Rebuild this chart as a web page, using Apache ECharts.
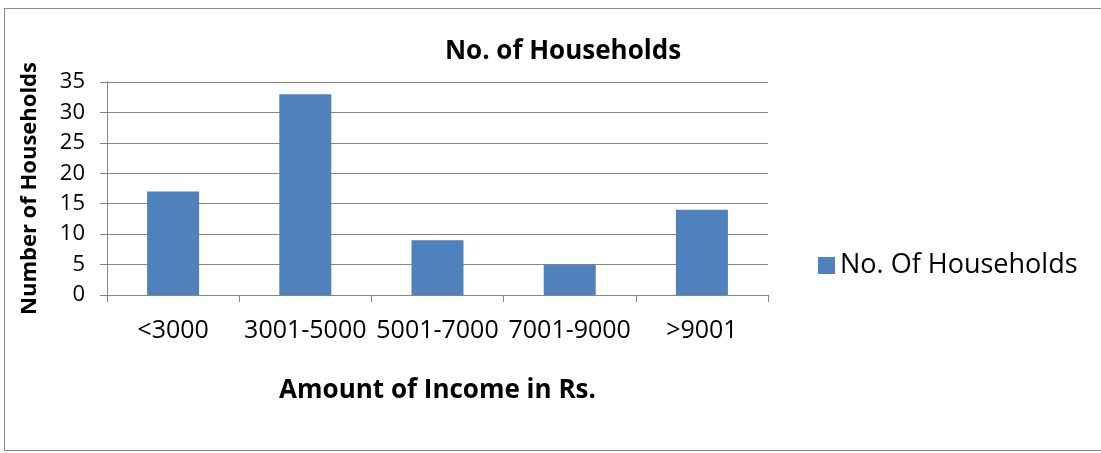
<!DOCTYPE html>
<html>
<head>
<meta charset="utf-8">
<script src="https://cdn.jsdelivr.net/npm/echarts@6/dist/echarts.min.js"></script>
<style>
  html, body { margin: 0; padding: 0; background: #fff; }
  #Chart { width: 1101px; height: 453px; }
  #frame { position: absolute; left: 4px; top: 8px; width: 1110px; height: 443px; border: 1px solid #8c8c8c; box-sizing: border-box; pointer-events: none; }
</style>
</head>
<body>
<div id="Chart"></div>
<div id="frame"></div>
<script>
var categories = ['<3000', '3001-5000', '5001-7000', '7001-9000', '>9001'];
var households = [17, 33, 9, 5, 14];
var seriesName = 'No. Of Households';

var font = '"Open Sans", "Liberation Sans", Arial, sans-serif';
var Chart = echarts.init(document.getElementById('Chart'));
Chart.setOption({
  animation: false,
  title: {
    text: 'No. of Households',
    left: 558,
    textAlign: 'center',
    top: 34,
    textStyle: { fontFamily: font, fontSize: 26, fontWeight: 'bold', color: '#000' }
  },
  legend: {
    data: [seriesName],
    left: 813,
    top: 247,
    itemWidth: 17,
    itemHeight: 17,
    itemGap: 9,
    icon: 'rect',
    textStyle: { fontFamily: font, fontSize: 27, color: '#000' }
  },
  grid: {
    left: 107,
    right: 333,
    top: 82,
    bottom: 158
  },
  xAxis: {
    type: 'category',
    data: categories,
    name: 'Amount of Income in Rs.',
    nameLocation: 'middle',
    nameGap: 83,
    nameTextStyle: { fontFamily: font, fontSize: 26, fontWeight: 'bold', color: '#000' },
    axisLine: { lineStyle: { color: '#868686' } },
    axisTick: { show: true, length: 7, lineStyle: { color: '#868686' } },
    axisLabel: { fontFamily: font, fontSize: 25, color: '#000', margin: 23, interval: 0 }
  },
  yAxis: {
    type: 'value',
    min: 0,
    max: 35,
    interval: 5,
    name: 'Number of Households',
    nameLocation: 'middle',
    nameGap: 66,
    nameTextStyle: { fontFamily: font, fontSize: 22, fontWeight: 'bold', color: '#000' },
    axisLine: { show: true, lineStyle: { color: '#868686' } },
    axisTick: { show: true, length: 7, lineStyle: { color: '#868686' } },
    axisLabel: { fontFamily: font, fontSize: 22, color: '#000', margin: 22 },
    splitLine: { lineStyle: { color: '#868686' } }
  },
  series: [
    {
      name: seriesName,
      type: 'bar',
      barWidth: 52,
      itemStyle: { color: '#4F81BD' },
      data: households
    }
  ]
});
</script>
</body>
</html>
